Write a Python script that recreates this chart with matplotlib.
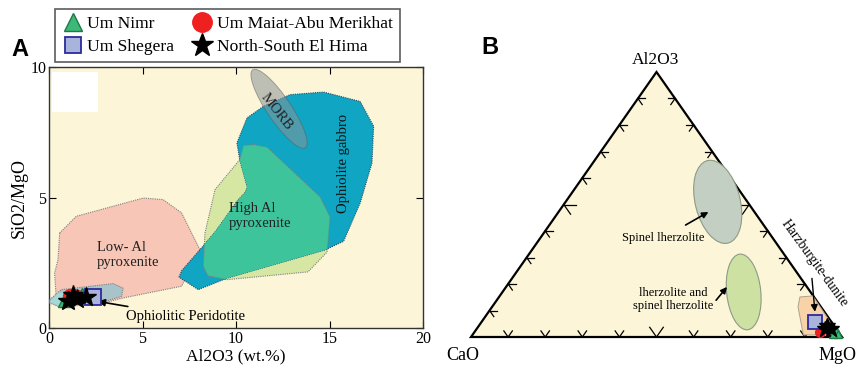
import matplotlib
matplotlib.use("Agg")
import matplotlib.pyplot as plt
import numpy as np
from matplotlib.patches import Polygon, Ellipse, Rectangle
from matplotlib.lines import Line2D
import matplotlib.transforms as mtransforms

plt.rcParams["font.family"] = ["Liberation Serif", "DejaVu Serif"]

# ---- panel A data (Al2O3 wt.%, SiO2/MgO) ----
low_al_pyx = [(0.57, 3.64), (1.46, 4.28), (5.04, 4.98), (6.1, 4.92), (7.09, 4.41),
              (8.07, 3.0), (7.09, 1.6), (3.96, 1.15), (2.54, 0.89), (0.39, 1.09),
              (0.3, 2.1), (0.48, 2.62)]
oph_peridotite = [(0.04, 1.09), (0.66, 1.47), (3.43, 1.7), (3.96, 1.53), (3.88, 1.21),
                  (2.54, 0.92), (0.57, 0.8), (0.04, 0.96)]
oph_peridotite_core = [(0.04, 1.0), (0.6, 0.82), (1.6, 0.85), (1.4, 1.3), (0.5, 1.35)]
oph_gabbro = [(6.95, 1.95), (7.1, 2.2), (8.07, 3.0), (8.88, 3.68), (10.1, 4.9), (10.5, 5.2),
              (10.6, 5.4), (10.2, 6.44), (10.05, 7.09), (10.59, 8.05), (11.46, 8.49),
              (12.89, 8.94), (14.68, 9.04), (16.64, 8.68), (17.36, 7.73), (17.27, 6.32),
              (16.64, 4.79), (15.75, 3.32), (14.76, 2.99), (9.57, 1.92), (7.98, 1.47)]
high_al_pyx = [(8.25, 2.36), (8.34, 3.64), (8.88, 5.3), (10.2, 6.45), (10.4, 7.0),
               (11.0, 7.02), (11.66, 6.93), (14.5, 5.02), (15.03, 4.25), (14.87, 2.91),
               (13.85, 2.15), (9.5, 1.85), (8.5, 2.0)]
morb_center = (12.3, 8.4)

nimr_al = [0.8, 1.4, 1.75]
nimr_ratio = [1.05, 1.25, 1.3]
shegera_al = [2.35]
shegera_ratio = [1.2]
maiat_al = [1.1, 1.5]
maiat_ratio = [1.22, 1.2]
hima_al = [1.0, 1.5, 2.0, 1.3]
hima_ratio = [1.05, 1.1, 1.2, 1.25]

# ---- panel B data (CaO, Al2O3, MgO %) ----
spinel_lherz_center = (8, 51, 41)
lherz_center = (18, 17, 65)
harz_dunite = [(3.8, 15.1, 81.1), (0.1, 15.5, 84.4), (0.3, 7.5, 92.2), (0.9, 0.8, 98.3),
               (10, 0.8, 89.2), (6.2, 11.3, 82.5)]
nimr_t = [(0.5, 2.5, 97), (0.5, 1, 98.5), (2, 1, 97)]
shegera_t = [(4.5, 5.5, 90)]
maiat_t = [(5, 2, 93)]
hima_t = [(2, 4, 94), (3, 3, 94), (1.5, 3, 95.5)]

fig = plt.figure(figsize=(8.59, 3.67), dpi=100)

# ================= panel A =================
ax = fig.add_axes([49 / 859, 39 / 367, 374 / 859, 261 / 367])
ax.set_facecolor("#fcf5d8")
ax.set_xlim(0, 20)
ax.set_ylim(0, 10)

ax.add_patch(Rectangle((0.16, 8.28), 2.46, 1.53, facecolor="white", edgecolor="none", zorder=1))
edge = dict(edgecolor="#7f7f7f", linestyle=(0, (1, 1)), linewidth=0.8)
ax.add_patch(Polygon(low_al_pyx, facecolor="#f7c6b6", zorder=2, **edge))
ax.add_patch(Polygon(oph_peridotite, facecolor="#a9c3cb", zorder=3, **edge))
ax.add_patch(Polygon(oph_peridotite_core, facecolor="#a3d9d6", edgecolor="none", zorder=3))
ax.add_patch(Polygon(high_al_pyx, facecolor="#d6e7a4", zorder=2, **edge))
gab = Polygon(oph_gabbro, facecolor="#0fa5c3", zorder=3, edgecolor="#2b4d66",
              linestyle=(0, (1, 1)), linewidth=0.8)
ax.add_patch(gab)
overlap = Polygon(high_al_pyx, facecolor="#3dc49b", zorder=4, **edge)
ax.add_patch(overlap)
overlap.set_clip_path(gab)

sx, sy = 20 / 374, 10 / 261
morb_tr = mtransforms.Affine2D().scale(sx, sy).translate(*morb_center) + ax.transData
ax.add_patch(Ellipse((0, 0), 94, 24, angle=-56, transform=morb_tr, facecolor="#8a9499",
                     alpha=0.55, edgecolor="#5a5a5a", linewidth=0.6, zorder=5))

ax.text(12.15, 8.3, "MORB", rotation=-52, ha="center", va="center", fontsize=10.5,
        color="#222222", zorder=6)
ax.text(15.75, 6.3, "Ophiolite gabbro", rotation=90, ha="center", va="center",
        fontsize=10.5, color="#111111", zorder=6)
ax.text(9.6, 4.3, "High Al\npyroxenite", ha="left", va="center", fontsize=10.5,
        color="#222222", zorder=6, linespacing=1.2)
ax.text(2.55, 2.8, "Low- Al\npyroxenite", ha="left", va="center", fontsize=10.5,
        color="#222222", zorder=6, linespacing=1.2)
ax.annotate("Ophiolitic Peridotite", xy=(2.6, 1.02), xytext=(4.1, 0.45),
            fontsize=10.5, va="center", ha="left", zorder=6,
            arrowprops=dict(arrowstyle="-|>", color="black", lw=1.2, shrinkA=2, shrinkB=0))

ax.plot(nimr_al, nimr_ratio, "^", ms=9, mfc="#3cb878", mec="#1e7a45", zorder=7)
ax.plot(maiat_al, maiat_ratio, "o", ms=10, mfc="#ee2020", mec="#ee2020", zorder=7)
ax.plot(shegera_al, shegera_ratio, "s", ms=11, mfc="#a8b4dc", mec="#2b2b9c", mew=1.3, zorder=8)
ax.plot(hima_al, hima_ratio, "*", ms=15, mfc="black", mec="black", zorder=9)

ax.set_xticks([0, 5, 10, 15, 20])
ax.set_yticks([0, 5, 10])
ax.tick_params(direction="in", top=True, right=True, labelsize=11.5, length=5, pad=2)
ax.set_xlabel("Al2O3 (wt.%)", fontsize=12.5, labelpad=1)
ax.set_ylabel("SiO2/MgO", fontsize=13, labelpad=2)
for s in ax.spines.values():
    s.set_linewidth(1.0)
    s.set_color("#333333")

handles = [
    Line2D([], [], ls="", marker="^", ms=13, mfc="#3cb878", mec="#1e7a45"),
    Line2D([], [], ls="", marker="s", ms=12, mfc="#a8b4dc", mec="#2b2b9c", mew=1.3),
    Line2D([], [], ls="", marker="o", ms=14, mfc="#ee2020", mec="#ee2020"),
    Line2D([], [], ls="", marker="*", ms=17, mfc="black", mec="black"),
]
labels = ["Um Nimr", "Um Shegera", "Um Maiat-Abu Merikhat", "North-South El Hima"]
leg = fig.legend(handles, labels, loc="upper left", ncol=2,
                 bbox_to_anchor=(55 / 859, 1 - 9 / 367),
                 frameon=True, fancybox=False, edgecolor="#333333", fontsize=12.6,
                 handletextpad=0.25, handlelength=1.2, borderpad=0.4, labelspacing=0.35,
                 columnspacing=1.0, borderaxespad=0)
leg.get_frame().set_linewidth(1.2)

fig.text(20 / 859, 1 - 50 / 367, "A", fontsize=17, fontweight="bold",
         family="Liberation Sans", ha="center", va="center")
fig.text(490 / 859, 1 - 48 / 367, "B", fontsize=17, fontweight="bold",
         family="Liberation Sans", ha="center", va="center")

# ================= panel B (ternary) =================
H = 265 / 371
axb = fig.add_axes([471 / 859, 30 / 367, 371 / 859, 265 / 367])
axb.set_xlim(0, 1)
axb.set_ylim(0, H)
axb.axis("off")


def tern(c, a, m):
    s = c + a + m
    return (m + a / 2) / s, a / s * H


def tern_list(pts):
    xy = [tern(*p) for p in pts]
    return [p[0] for p in xy], [p[1] for p in xy]


corners = [tern(100, 0, 0), tern(0, 0, 100), tern(0, 100, 0)]
axb.add_patch(Polygon(corners, closed=True, facecolor="#fcf5d8", edgecolor="black",
                      linewidth=1.6, zorder=2, clip_on=False))

# tick marks along each edge
ca, mg, al = np.array(corners[0]), np.array(corners[1]), np.array(corners[2])
d_base = (mg - ca) / np.linalg.norm(mg - ca)
d_left = (al - ca) / np.linalg.norm(al - ca)
d_right = (al - mg) / np.linalg.norm(al - mg)
for i in range(1, 10):
    f = i / 10
    ln = 0.032 if i == 5 else 0.02
    p = ca + f * (al - ca)
    for d in (d_base, -d_right):
        axb.plot([p[0], p[0] + ln * d[0]], [p[1], p[1] + ln * d[1]], color="black", lw=0.9, zorder=3)
    p = mg + f * (al - mg)
    for d in (-d_base, -d_left):
        axb.plot([p[0], p[0] + ln * d[0]], [p[1], p[1] + ln * d[1]], color="black", lw=0.9, zorder=3)
    p = ca + f * (mg - ca)
    for d in (d_left, d_right):
        axb.plot([p[0], p[0] + ln * d[0]], [p[1], p[1] + ln * d[1]], color="black", lw=0.9, zorder=3)

axb.add_patch(Ellipse(tern(*spinel_lherz_center), 0.121, 0.229, angle=14,
                      facecolor="#c3cfc2", edgecolor="#8d9a86", lw=0.8, zorder=4))
axb.add_patch(Ellipse(tern(*lherz_center), 0.092, 0.205, angle=6,
                      facecolor="#cde2a2", edgecolor="#8d9a86", lw=0.8, zorder=4))
hx, hy = tern_list(harz_dunite)
axb.add_patch(Polygon(list(zip(hx, hy)), facecolor="#f8d3a8", edgecolor="#b0a090",
                      lw=0.7, zorder=4))

x, y = tern_list(nimr_t)
axb.plot(x, y, "^", ms=6, mfc="#3cb878", mec="#1e7a45", zorder=6, clip_on=False)
x, y = tern_list(maiat_t)
axb.plot(x, y, "o", ms=7, mfc="#ee2020", mec="#ee2020", zorder=6, clip_on=False)
x, y = tern_list(shegera_t)
axb.plot(x, y, "s", ms=10, mfc="#a8b4dc", mec="#2b2b9c", mew=1.3, zorder=7, clip_on=False)
x, y = tern_list(hima_t)
axb.plot(x, y, "*", ms=12, mfc="black", mec="black", zorder=8, clip_on=False)

axb.annotate("Spinel lherzolite", xy=(0.64, 0.337), xytext=(0.5175, 0.267),
             fontsize=9, ha="center", va="center", zorder=9,
             arrowprops=dict(arrowstyle="-|>", color="black", lw=1.2, shrinkA=6, shrinkB=0))
axb.annotate("lherzolite and\nspinel lherzolite", xy=(0.69, 0.135), xytext=(0.545, 0.1),
             fontsize=9, ha="center", va="center", zorder=9, linespacing=1.1,
             arrowprops=dict(arrowstyle="-|>", color="black", lw=1.2, shrinkA=0, shrinkB=0,
                             relpos=(1.0, 0.35)))
axb.annotate("", xy=(0.927, 0.068), xytext=(0.919, 0.158), zorder=9,
             arrowprops=dict(arrowstyle="-|>", color="black", lw=1.0, shrinkA=0, shrinkB=0))
axb.text(0.925, 0.2, "Harzburgite-dunite", rotation=-54, fontsize=9.8, ha="center",
         va="center", zorder=9)

fig.text(656 / 859, 1 - 60 / 367, "Al2O3", fontsize=12.5, ha="center", va="center")
fig.text(463 / 859, 1 - 355 / 367, "CaO", fontsize=13, ha="center", va="center")
fig.text(857 / 859, 1 - 355 / 367, "MgO", fontsize=13, ha="right", va="center")

fig.savefig("out.png", dpi=100, facecolor="white")
